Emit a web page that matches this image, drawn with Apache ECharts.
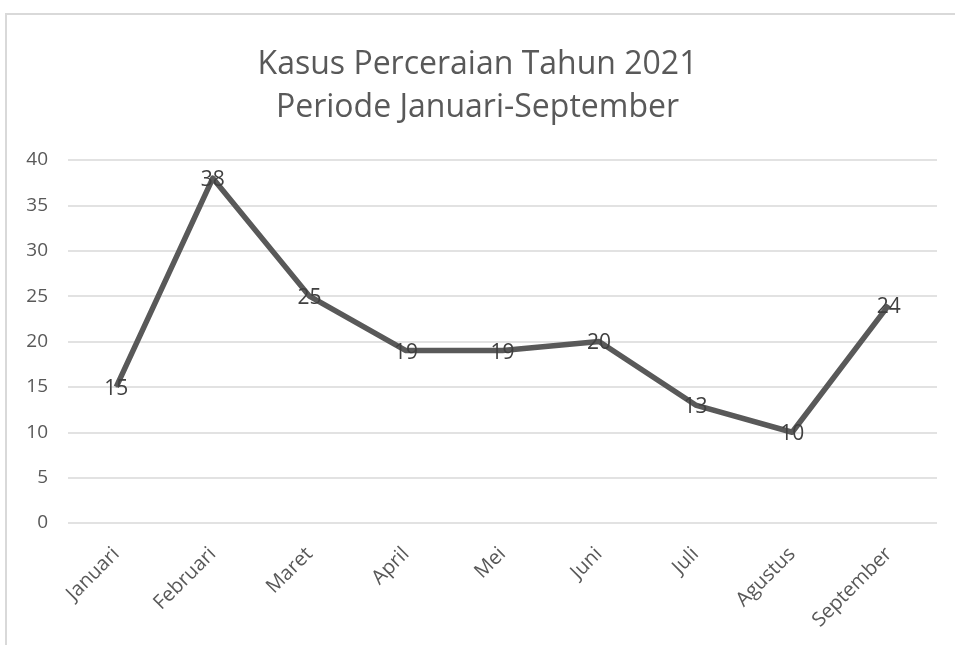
<!DOCTYPE html>
<html>
<head>
<meta charset="utf-8">
<script src="https://cdn.jsdelivr.net/npm/echarts@6/dist/echarts.min.js"></script>
<style>
html,body{margin:0;padding:0;background:#fff;}
#c{width:955px;height:645px;}
</style>
</head>
<body>
<div id="c"></div>
<script>
const categories = ["Januari","Februari","Maret","April","Mei","Juni","Juli","Agustus","September"];
const kasus = [15, 38, 25, 19, 19, 20, 13, 10, 24];
const yTicks = {min: 0, max: 40, interval: 5};
const titleLines = ["Kasus Perceraian Tahun 2021", "Periode Januari-September"];

const chart = echarts.init(document.getElementById('c'));
chart.setOption({
  backgroundColor: '#fff',
  animation: false,
  graphic: [{
    type: 'rect',
    shape: {x: 6, y: 14, width: 980, height: 700},
    style: {fill: 'none', stroke: '#d9d9d9', lineWidth: 2},
    silent: true
  }],
  title: {
    text: titleLines.join('\n'),
    left: 'center',
    top: 38,
    textStyle: {
      fontFamily: 'Open Sans',
      fontWeight: 'normal',
      fontSize: 32,
      color: '#595959',
      lineHeight: 43
    }
  },
  grid: {left: 68, right: 18, top: 160, bottom: 122, containLabel: false},
  xAxis: {
    type: 'category',
    data: categories,
    boundaryGap: true,
    axisLine: {show: false},
    axisTick: {show: false},
    axisLabel: {
      rotate: 45,
      margin: 28,
      fontFamily: 'Open Sans',
      fontSize: 20,
      color: '#595959'
    }
  },
  yAxis: {
    type: 'value',
    min: yTicks.min,
    max: yTicks.max,
    interval: yTicks.interval,
    axisLine: {show: false},
    axisTick: {show: false},
    splitLine: {lineStyle: {color: '#d9d9d9', width: 1.5}},
    axisLabel: {
      margin: 20,
      fontFamily: 'Open Sans',
      fontSize: 19,
      color: '#595959'
    }
  },
  series: [{
    type: 'line',
    data: kasus,
    symbol: 'circle',
    symbolSize: 1,
    showSymbol: true,
    itemStyle: {color: '#595959'},
    lineStyle: {color: '#595959', width: 5.5, join: 'round'},
    label: {
      show: true,
      position: 'inside',
      offset: [0, 2],
      fontFamily: 'Open Sans',
      fontSize: 21,
      color: '#404040'
    }
  }]
});
</script>
</body>
</html>
